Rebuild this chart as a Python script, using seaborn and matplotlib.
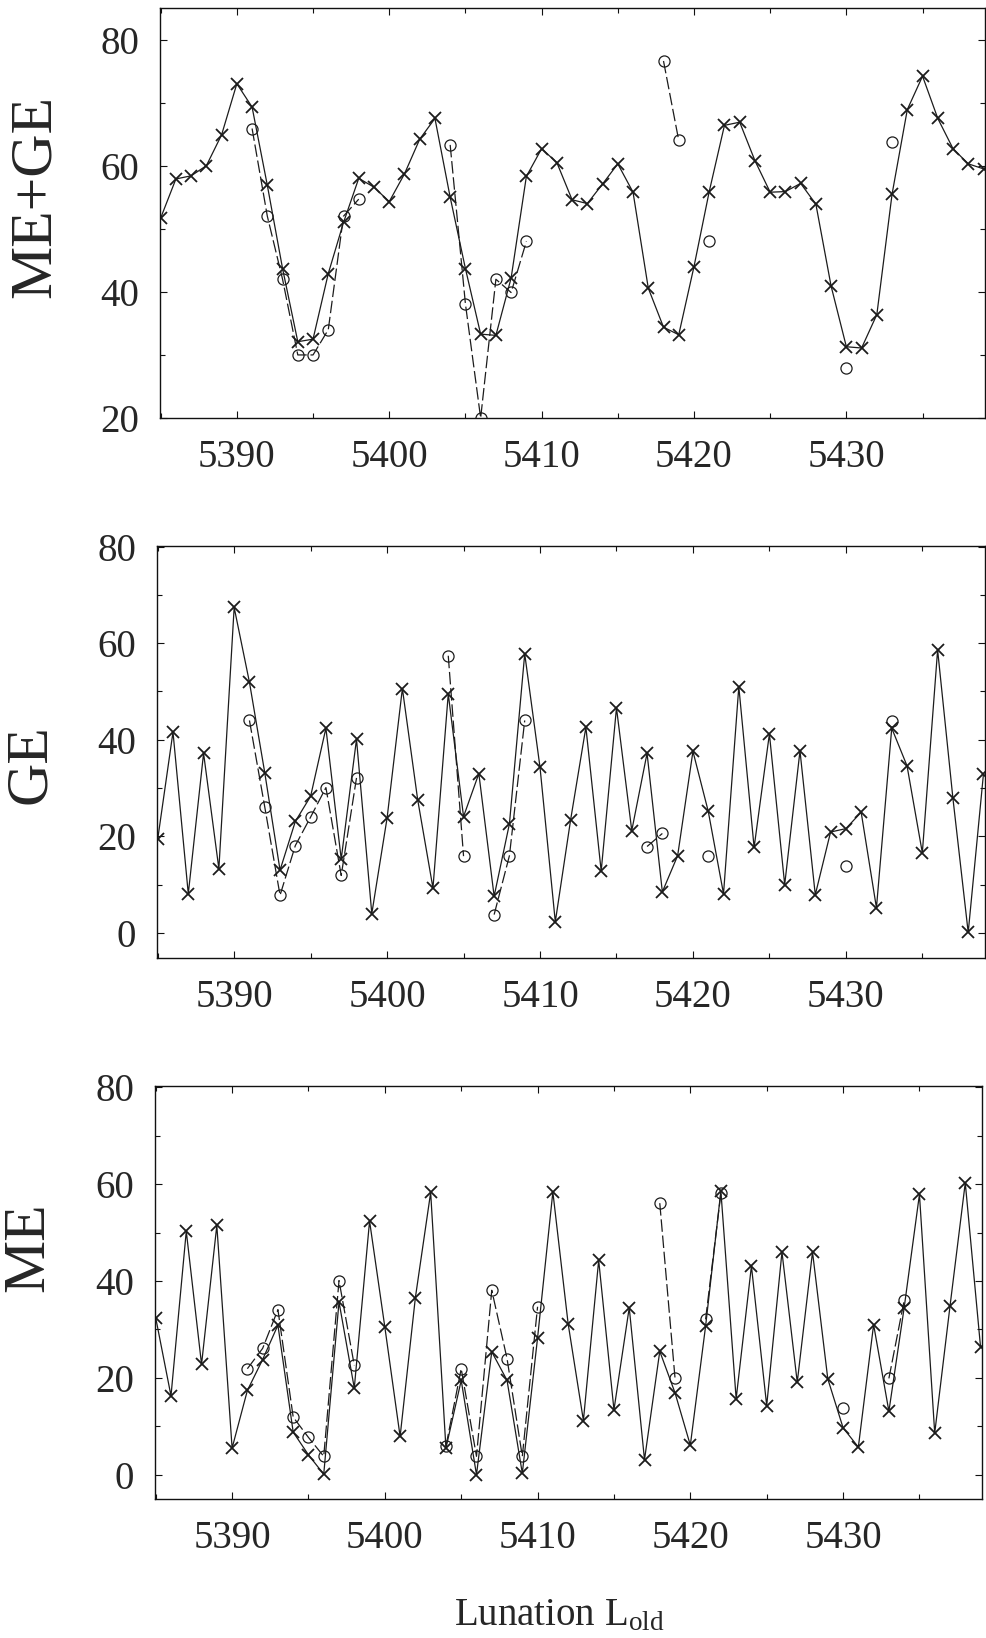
import numpy as np
import pandas as pd
import matplotlib
matplotlib.use("Agg")
import matplotlib.pyplot as plt
from matplotlib.ticker import MultipleLocator
import seaborn as sns

# Lunation numbers (old numbering)
lunation = list(range(5385, 5440))

# ME+GE: computed series (crosses) and observed values (circles)
mege_calc = [51.7, 57.9, 58.4, 60.0, 64.9, 73.0, 69.3, 56.9, 43.7, 32.1,
             32.5, 42.9, 51.0, 58.0, 56.6, 54.3, 58.7, 64.2, 67.5, 55.0,
             43.7, 33.3, 33.1, 42.2, 58.3, 62.7, 60.5, 54.6, 54.0, 57.1,
             60.3, 55.8, 40.6, 34.4, 33.2, 44.0, 55.9, 66.4, 66.9, 60.8,
             55.8, 55.9, 57.2, 53.9, 40.9, 31.3, 31.1, 36.4, 55.5, 68.9,
             74.2, 67.5, 62.7, 60.3, 59.5]
mege_obs_lun = [5391, 5392, 5393, 5394, 5395, 5396, 5397, 5398,
                5404, 5405, 5406, 5407, 5408, 5409, 5418, 5419, 5421,
                5430, 5433]
mege_obs = [65.9, 52.0, 42.0, 30.0, 30.0, 34.0, 52.0, 54.7,
            63.3, 38.1, 20.0, 42.0, 39.9, 48.0, 76.6, 64.0, 48.0,
            27.9, 63.8]

# GE
ge_calc = [19.4, 41.6, 8.1, 37.2, 13.3, 67.4, 51.9, 33.2, 13.0, 23.1,
           28.3, 42.4, 15.3, 40.1, 4.0, 23.8, 50.6, 27.6, 9.3, 49.5,
           24.1, 33.0, 7.6, 22.6, 57.8, 34.3, 2.3, 23.4, 42.6, 12.8,
           46.6, 21.2, 37.2, 8.5, 16.0, 37.6, 25.2, 8.1, 51.0, 17.7,
           41.2, 10.0, 37.7, 7.9, 20.9, 21.6, 25.0, 5.2, 42.4, 34.6,
           16.6, 58.6, 27.9, 0.1, 33.0]
ge_obs_lun = [5391, 5392, 5393, 5394, 5395, 5396, 5397, 5398,
              5404, 5405, 5407, 5408, 5409, 5417, 5418, 5421, 5430, 5433]
ge_obs = [44.0, 26.1, 7.8, 18.1, 24.0, 30.1, 11.9, 32.1,
          57.4, 15.9, 3.8, 16.0, 44.0, 17.9, 20.6, 15.9, 13.8, 43.9]

# ME
me_calc = [32.4, 16.3, 50.3, 22.8, 51.5, 5.5, 17.4, 23.8, 30.9, 8.8,
           4.1, 0.1, 35.7, 17.9, 52.4, 30.5, 7.9, 36.6, 58.3, 5.5,
           19.5, 0.0, 25.4, 19.5, 0.3, 28.3, 58.4, 31.2, 11.2, 44.3,
           13.4, 34.5, 3.1, 25.5, 16.9, 6.1, 30.7, 58.6, 15.7, 43.1,
           14.3, 46.0, 19.1, 46.0, 19.8, 9.7, 5.7, 31.0, 13.1, 34.5,
           57.9, 8.6, 34.8, 60.3, 26.4]
me_obs_lun = [5391, 5392, 5393, 5394, 5395, 5396, 5397, 5398,
              5404, 5405, 5406, 5407, 5408, 5409, 5410, 5418, 5419,
              5421, 5422, 5430, 5433, 5434]
me_obs = [21.9, 26.1, 34.1, 11.9, 7.7, 3.8, 40.1, 22.6,
          5.9, 21.9, 3.8, 38.1, 24.0, 3.8, 34.7, 56.1, 19.9,
          32.1, 58.1, 13.8, 19.9, 36.0]

x_ticks = [5390, 5400, 5410, 5420, 5430]

sns.set_style("ticks")
plt.rcParams["font.family"] = ["Liberation Serif", "DejaVu Serif"]
plt.rcParams["mathtext.fontset"] = "custom"
plt.rcParams["mathtext.rm"] = "Liberation Serif"
plt.rcParams["mathtext.it"] = "Liberation Serif:italic"
plt.rcParams["axes.edgecolor"] = "#111111"
plt.rcParams["axes.linewidth"] = 1.0


def observed_runs(lun, val):
    """Split observed points into runs of consecutive lunations."""
    lun = np.asarray(lun)
    run = np.cumsum(np.diff(lun, prepend=lun[0] - 2) != 1)
    return pd.DataFrame({"lunation": lun, "value": val, "run": run})


fig = plt.figure(figsize=(9.87, 16.38), dpi=100)

panels = [
    # rect, ylabel, calc, obs lunations, obs values, ylim, yticks, label pos
    ([0.162, 0.7448, 0.836, 0.2503], "ME+GE", mege_calc, mege_obs_lun,
     mege_obs, (20, 85), [20, 40, 60, 80], (-0.150, 0.54)),
    ([0.159, 0.4151, 0.839, 0.2515], "GE", ge_calc, ge_obs_lun,
     ge_obs, (-5.2, 80.1), [0, 20, 40, 60, 80], (-0.152, 0.47)),
    ([0.157, 0.0849, 0.838, 0.2521], "ME", me_calc, me_obs_lun,
     me_obs, (-5.0, 80.3), [0, 20, 40, 60, 80], (-0.152, 0.61)),
]

line_col = "#1c1c1c"

for rect, ylab, calc, olun, oval, ylim, yticks, label_pos in panels:
    ax = fig.add_axes(rect)
    sns.lineplot(x=lunation, y=calc, ax=ax, estimator=None,
                 color=line_col, linewidth=0.9, marker="x",
                 markersize=9, markeredgewidth=1.3,
                 markeredgecolor=line_col)
    obs_df = observed_runs(olun, oval)
    sns.lineplot(data=obs_df, x="lunation", y="value", units="run",
                 estimator=None, ax=ax, color=line_col, linewidth=0.9,
                 linestyle=(0, (10, 3)), marker="o", markersize=8,
                 markeredgewidth=0.9, markeredgecolor=line_col,
                 markerfacecolor="none")

    ax.set_xlim(5384.95, 5439.1)
    ax.set_ylim(*ylim)
    ax.set_xticks(x_ticks)
    ax.set_yticks(yticks)
    ax.xaxis.set_minor_locator(MultipleLocator(5))
    ax.yaxis.set_minor_locator(MultipleLocator(10))
    ax.tick_params(which="both", direction="in", top=True, right=True,
                   width=0.8, color="#111111")
    ax.tick_params(which="major", length=5, labelsize=28)
    ax.tick_params(which="minor", length=3.5)
    ax.tick_params(axis="x", pad=15)
    ax.tick_params(axis="y", pad=15)
    ax.set_xlabel("")
    ax.set_ylabel(ylab, fontsize=43, va="center", ha="center")
    ax.yaxis.set_label_coords(*label_pos)
    for s in ax.spines.values():
        s.set_visible(True)

fig.text(0.567, 0.0075, r"Lunation L$_{\mathrm{old}}$", fontsize=28,
         ha="center", va="baseline")

fig.savefig("out.png", dpi=100, facecolor="white")
